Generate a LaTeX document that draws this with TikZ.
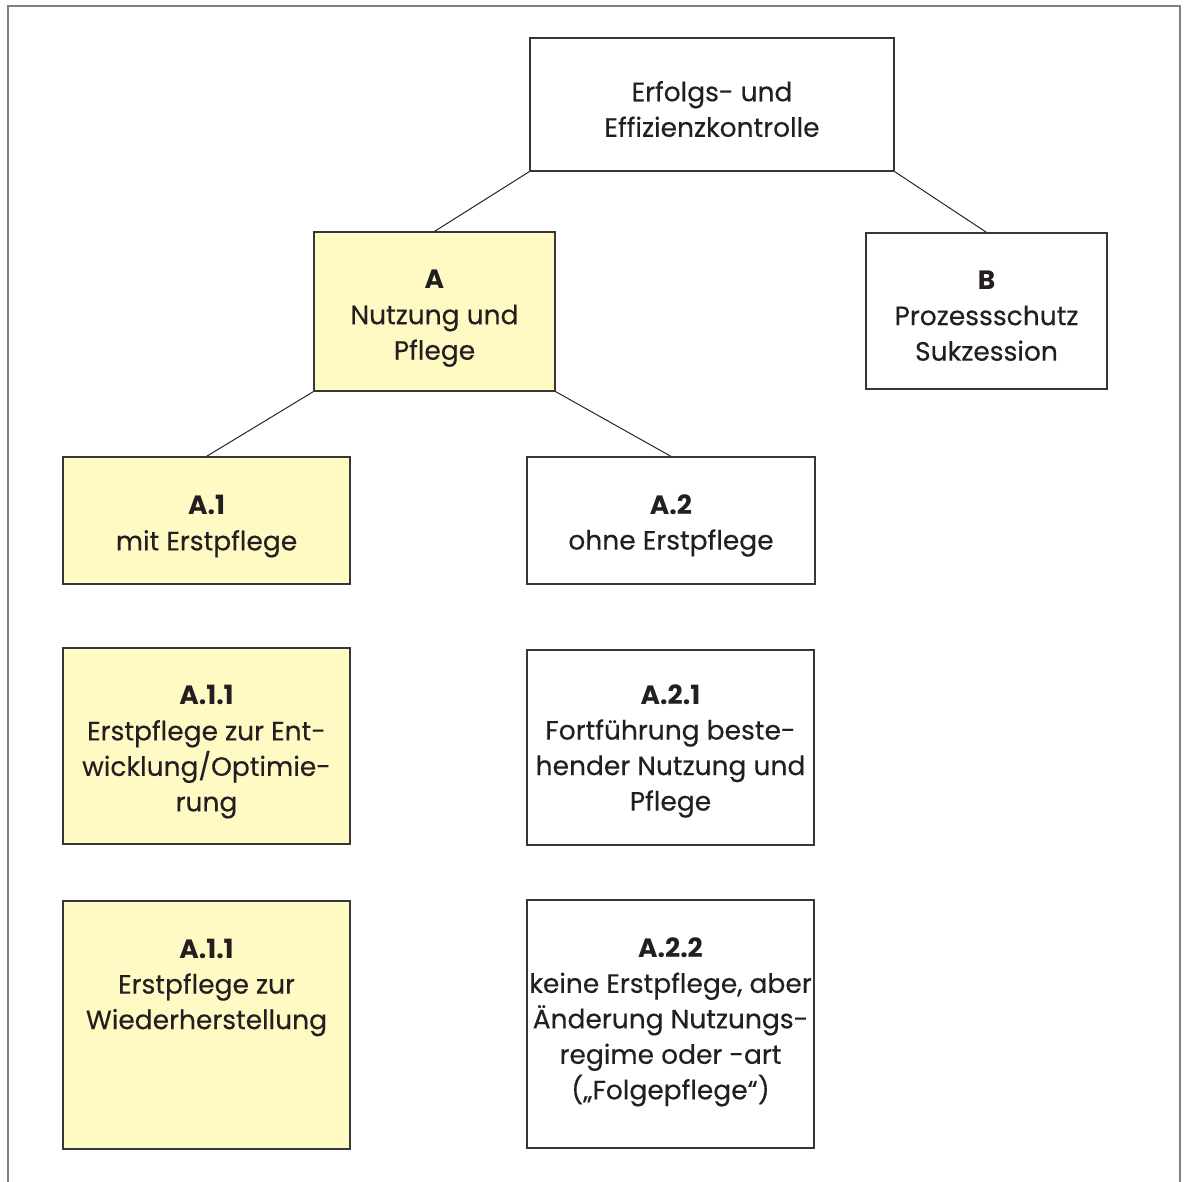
\documentclass[tikz,border=0pt]{standalone}
\usepackage{fontspec}
\setmainfont{Poppins}[UprightFeatures={FakeBold=0.3}]
\definecolor{pflegegelb}{RGB}{255,249,196}
\definecolor{rahmengrau}{RGB}{128,128,128}
\definecolor{kastenrand}{RGB}{55,55,55}
\definecolor{schrift}{RGB}{35,31,32}
\begin{document}
\begin{tikzpicture}[
    x=1pt, y=-1pt,
    every node/.style={font=\fontsize{26.5}{35.5}\selectfont, text=schrift},
    kasten/.style={
        draw=kastenrand, line width=1.2pt, inner sep=0pt, fill=white
    },
    gelbkasten/.style={
        kasten, fill=pflegegelb
    },
    kastentext/.style={align=center, inner sep=0pt, yshift=-6pt},
    verbindung/.style={draw=black!85, line width=1pt}
]
\useasboundingbox (0,0) rectangle (1187,1182);

% ----------------------------------------------------------
% Rahmen
% ----------------------------------------------------------
\draw[rahmengrau, line width=2pt] (8,1182) -- (8,6) -- (1180,6) -- (1180,1182);

% ----------------------------------------------------------
% Obere Ebenen
% ----------------------------------------------------------
\node[kasten, minimum width=364pt, minimum height=133pt,
      label={[kastentext, yshift=1.5pt]center:{Erfolgs- und\\Effizienzkontrolle}}] (ek) at (712, 104.5) {};
\node[gelbkasten, minimum width=241pt, minimum height=159pt,
      label={[kastentext, yshift=-1pt]center:{\textbf{A}\\Nutzung und\\Pflege}}] (a) at (434.5, 311.5) {};
\node[kasten, minimum width=241pt, minimum height=156pt,
      label={[kastentext, yshift=1pt]center:{\textbf{B}\\Prozessschutz\\Sukzession}}] (b) at (986.5, 311) {};

% ----------------------------------------------------------
% Zweig A.1 (gelb) und A.2
% ----------------------------------------------------------
\node[gelbkasten, minimum width=287pt, minimum height=127pt,
      label={[kastentext]center:{\textbf{A.1}\\mit Erstpflege}}] (a1) at (206.5, 520.5) {};
\node[kasten, minimum width=288pt, minimum height=127pt,
      label={[kastentext, yshift=1pt]center:{\textbf{A.2}\\ohne Erstpflege}}] (a2) at (671, 520.5) {};

\node[gelbkasten, minimum width=287pt, minimum height=196pt,
      label={[kastentext]center:{\textbf{A.1.1}\\Erstpflege zur Ent-\\wicklung/Optimie-\\rung}}] (a11) at (206.5, 746) {};
\node[kasten, minimum width=287pt, minimum height=195pt,
      label={[kastentext, yshift=2.5pt]center:{\textbf{A.2.1}\\Fortführung beste-\\hender Nutzung und\\Pflege}}] (a21) at (670.5, 747.5) {};

% A.1.1 unten: Text oben im Kasten
\node[gelbkasten, minimum width=287pt, minimum height=248pt,
      label={[kastentext, yshift=43.5pt]center:{\textbf{A.1.1}\\Erstpflege zur\\Wiederherstellung}}] (a11b) at (206.5, 1025) {};
\node[kasten, minimum width=287pt, minimum height=248pt,
      label={[kastentext, yshift=8pt]center:{\textbf{A.2.2}\\keine Erstpflege, aber\\Änderung Nutzungs-\\regime oder -art\\(„Folgepflege“)}}] (a22) at (670.5, 1024) {};

% Verbindungslinien: Ecke des oberen Kastens zur Mitte des unteren
\draw[verbindung] (ek.south west) -- (a.north);
\draw[verbindung] (ek.south east) -- (b.north);
\draw[verbindung] (a.south west) -- (a1.north);
\draw[verbindung] (a.south east) -- (a2.north);

\end{tikzpicture}
\end{document}
